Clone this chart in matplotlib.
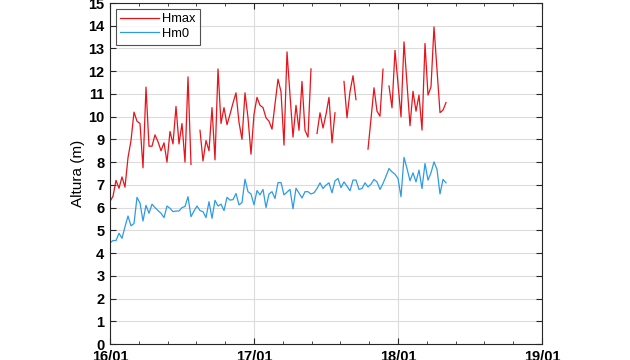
import numpy as np
import pandas as pd
import matplotlib
matplotlib.use('Agg')
import matplotlib.pyplot as plt
import matplotlib.dates as mdates
from matplotlib.ticker import MultipleLocator

plt.rcParams['font.family'] = ['Liberation Sans', 'DejaVu Sans']

nan = np.nan
# wave heights every 30 min from 16/01 00:00
hmax = [6.27, 6.5, 7.2, 6.85, 7.35, 6.9, 8.2, 8.95, 10.2, 9.8,
        9.7, 7.75, 11.3, 8.7, 8.7, 9.2, 8.9, 8.5, 8.85, 8.0,
        9.35, 8.8, 10.45, 8.8, 9.7, 8.0, 11.75, 7.9, nan, nan,
        9.4, 8.05, 8.95, 8.5, 10.4, 8.1, 12.1, 9.7, 10.4, 9.65,
        10.1, 10.6, 11.05, 9.75, 9.0, 11.05, 9.95, 8.35, 10.1, 10.85,
        10.5, 10.4, 9.95, 9.8, 9.45, 10.55, 11.65, 11.1, 8.75, 12.85,
        10.95, 9.1, 10.5, 9.4, 11.55, 9.4, 9.1, 12.1, nan, 9.26,
        10.17, 9.5, 10.1, 10.85, 8.85, 10.17, nan, nan, 11.55, 9.95,
        11.1, 11.8, 10.75, nan, nan, nan, 8.57, 9.9, 11.27, 10.24,
        10.02, 12.09, nan, 11.35, 10.39, 12.92, 11.45, 9.99, 13.29, 11.45,
        9.6, 11.12, 10.24, 10.95, 9.41, 13.22, 10.95, 11.31, 13.95, 12.07,
        10.18, 10.29, 10.62]
hm0 = [4.45, 4.55, 4.55, 4.87, 4.65, 5.16, 5.63, 5.2, 5.3, 6.45,
       6.2, 5.41, 6.1, 5.75, 6.15, 6.0, 5.87, 5.75, 5.56, 6.07,
       5.97, 5.82, 5.85, 5.85, 6.0, 6.05, 6.48, 5.6, 5.85, 6.07,
       5.87, 5.82, 5.56, 6.26, 5.53, 6.32, 6.07, 6.15, 5.87, 6.45,
       6.33, 6.35, 6.62, 6.12, 6.22, 7.25, 6.7, 6.6, 6.12, 6.75,
       6.56, 6.8, 6.0, 6.6, 6.7, 6.4, 7.1, 7.1, 6.56, 6.68,
       6.8, 5.95, 6.85, 6.64, 6.42, 6.7, 6.7, 6.6, 6.65, 6.84,
       7.09, 6.84, 6.99, 7.09, 6.65, 7.18, 7.28, 6.88, 7.13, 6.94,
       6.74, 7.21, 7.21, 6.8, 6.84, 7.09, 6.91, 7.03, 7.24, 7.13,
       6.8, 7.06, 7.38, 7.72, 7.57, 7.47, 7.28, 6.48, 8.21, 7.72,
       7.18, 7.53, 7.13, 7.65, 6.84, 7.94, 7.21, 7.53, 8.01, 7.68,
       6.6, 7.24, 7.09]

t = pd.date_range('2017-01-16 00:00', periods=len(hm0), freq='30min')

fig = plt.figure(figsize=(6.3, 3.6), dpi=100)
ax = fig.add_axes([110/630, 16/360, 432/630, 341/360])

ax.plot(t, hmax, color='#E8141B', lw=0.9, label='Hmax')
ax.plot(t, hm0, color='#2E9BE6', lw=0.9, label='Hm0')

ax.set_ylim(0, 15)
ax.set_xlim(pd.Timestamp('2017-01-16'), pd.Timestamp('2017-01-19'))
ax.yaxis.set_major_locator(MultipleLocator(1))
ax.xaxis.set_major_locator(mdates.DayLocator())
ax.xaxis.set_major_formatter(mdates.DateFormatter('%d/%m'))
ax.xaxis.set_minor_locator(MultipleLocator(0.2))

ax.grid(True, which='major', color='#dcdcdc', lw=0.8)
ax.set_axisbelow(True)
ax.tick_params(which='both', direction='in', top=True, right=True,
               color='#262626', labelsize=10.5)
ax.tick_params(which='major', length=4, pad=4)
ax.tick_params(which='minor', length=2.5)
for lab in ax.get_xticklabels() + ax.get_yticklabels():
    lab.set_fontweight('bold')
for s in ax.spines.values():
    s.set_color('#262626')
    s.set_linewidth(0.8)

ax.set_ylabel('Altura (m)', fontsize=11, labelpad=2)

leg = ax.legend(loc='upper left', fontsize=9.3, frameon=True, fancybox=False,
                edgecolor='#262626', handlelength=3.0, handletextpad=0.2,
                borderpad=0.35, labelspacing=0.2, borderaxespad=0.45)
leg.get_frame().set_linewidth(0.8)

fig.savefig('out.png', dpi=100)
